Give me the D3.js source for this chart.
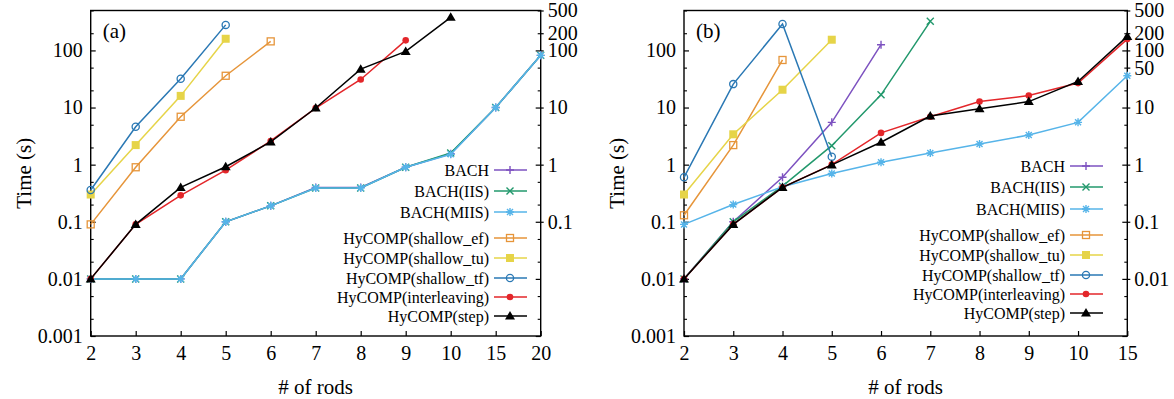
<!DOCTYPE html>
<html>
<head>
<meta charset="utf-8">
<script src="https://cdn.jsdelivr.net/npm/d3@7"></script>
<style>
  body { margin: 0; background: #fff; }
  svg, svg text { font-family: "Liberation Serif", "Times New Roman", Times, "DejaVu Serif", serif !important; }
</style>
</head>
<body>
<svg id="chart" width="1174" height="399"></svg>
<script>
// categories (# of rods)
const rodsA = ['2', '3', '4', '5', '6', '7', '8', '9', '10', '15', '20'];
const rodsB = ['2', '3', '4', '5', '6', '7', '8', '9', '10', '15'];

// panel (a) times in seconds, aligned to rodsA
const bachA   = [0.01, 0.01, 0.01, 0.1, 0.19, 0.4, 0.4, 0.9, 1.55, 10, 82];
const iisA    = [0.01, 0.01, 0.01, 0.1, 0.19, 0.39, 0.39, 0.9, 1.6, 10, 82];
const miisA   = [0.01, 0.01, 0.01, 0.1, 0.19, 0.39, 0.39, 0.9, 1.52, 10, 82];
const efA     = [0.09, 0.9, 6.9, 36, 144];
const tuA     = [0.3, 2.2, 16, 160];
const tfA     = [0.36, 4.6, 32, 280];
const interA  = [0.01, 0.09, 0.29, 0.8, 2.6, 9.8, 31, 150];
const stepA   = [0.01, 0.09, 0.4, 0.92, 2.5, 9.8, 47, 96, 380];

// panel (b) times in seconds, aligned to rodsB
const bachB   = [0.01, 0.1, 0.6, 5.5, 126];
const iisB    = [0.01, 0.1, 0.42, 2.15, 16.7, 323];
const miisB   = [0.09, 0.2, 0.41, 0.7, 1.1, 1.6, 2.3, 3.3, 5.5, 36];
const efB     = [0.13, 2.2, 68];
const tuB     = [0.3, 3.4, 20.5, 154];
const tfB     = [0.6, 25.7, 290, 1.38];
const interB  = [0.01, 0.09, 0.4, 1.0, 3.6, 6.9, 12.7, 16.2, 26.8, 158];
const stepB   = [0.01, 0.09, 0.4, 0.99, 2.47, 7.1, 9.5, 12.7, 28.6, 176];

const seriesNames = ['BACH', 'BACH(IIS)', 'BACH(MIIS)', 'HyCOMP(shallow_ef)',
  'HyCOMP(shallow_tu)', 'HyCOMP(shallow_tf)', 'HyCOMP(interleaving)', 'HyCOMP(step)'];

// tick labels
const leftTicks = [0.001, 0.01, 0.1, 1, 10, 100];
const leftTickLabels = ['0.001', '0.01', '0.1', '1', '10', '100'];
const rightTicksA = [500, 200, 100, 10, 1, 0.1];
const rightTicksB = [500, 200, 100, 50, 10, 1, 0.1, 0.01];

const colors = ['#7d52c0', '#22986c', '#56b4e9', '#e6953a', '#e6d448', '#2a78b4', '#e3262a', '#000000'];
const markers = ['plus', 'cross', 'star', 'square', 'fsquare', 'circle', 'dot', 'triangle'];

const svg = d3.select('#chart');

function drawMarker(g, type, x, y, color) {
  if (type === 'plus') {
    g.append('path').attr('d', `M${x - 4},${y}H${x + 4}M${x},${y - 4}V${y + 4}`)
      .attr('stroke', color).attr('stroke-width', 1.4);
  } else if (type === 'cross') {
    g.append('path').attr('d', `M${x - 3.5},${y - 3.5}L${x + 3.5},${y + 3.5}M${x - 3.5},${y + 3.5}L${x + 3.5},${y - 3.5}`)
      .attr('stroke', color).attr('stroke-width', 1.4);
  } else if (type === 'star') {
    g.append('path').attr('d', `M${x - 4},${y}H${x + 4}M${x},${y - 4}V${y + 4}M${x - 3},${y - 3}L${x + 3},${y + 3}M${x - 3},${y + 3}L${x + 3},${y - 3}`)
      .attr('stroke', color).attr('stroke-width', 1.4);
  } else if (type === 'square') {
    g.append('rect').attr('x', x - 3.5).attr('y', y - 3.5).attr('width', 7).attr('height', 7)
      .attr('fill', 'none').attr('stroke', color).attr('stroke-width', 1.3);
  } else if (type === 'fsquare') {
    g.append('rect').attr('x', x - 4).attr('y', y - 4).attr('width', 8).attr('height', 8)
      .attr('fill', color);
  } else if (type === 'circle') {
    g.append('circle').attr('cx', x).attr('cy', y).attr('r', 3.6)
      .attr('fill', 'none').attr('stroke', color).attr('stroke-width', 1.3);
  } else if (type === 'dot') {
    g.append('circle').attr('cx', x).attr('cy', y).attr('r', 3.3).attr('fill', color);
  } else if (type === 'triangle') {
    g.append('path').attr('d', `M${x},${y - 5}L${x + 5},${y + 3.5}L${x - 5},${y + 3.5}Z`).attr('fill', color);
  }
}

function drawPanel(opt) {
  const { left, right, top, bottom, rods, series, rightTicks, tag, legendX, legendRows } = opt;

  const x = d3.scalePoint().domain(rods).range([left, right]);
  const y = d3.scaleLog().domain([0.001, 500]).range([bottom, top]);

  const g = svg.append('g');

  // minor ticks at 2 and 5 of each decade
  const minor = [];
  [0.001, 0.01, 0.1, 1, 10, 100].forEach(d => { minor.push(d * 2, d * 5); });

  // left axis
  const leftAxis = d3.axisLeft(y).tickValues(leftTicks).tickSize(-5)
    .tickFormat((d, i) => leftTickLabels[i]).tickPadding(8);
  const la = g.append('g').attr('transform', `translate(${left},0)`).call(leftAxis);
  la.select('.domain').remove();
  la.selectAll('line').attr('stroke', '#000').attr('stroke-width', 1.2);
  la.selectAll('text').attr('font-size', 20).attr('fill', '#000');
  const lm = g.append('g').attr('transform', `translate(${left},0)`)
    .call(d3.axisLeft(y).tickValues(minor).tickSize(-3).tickFormat(''));
  lm.select('.domain').remove();
  lm.selectAll('line').attr('stroke', '#000').attr('stroke-width', 1.1);

  // right axis (mirror ticks inward + labelled y2 ticks)
  const rm = g.append('g').attr('transform', `translate(${right},0)`)
    .call(d3.axisRight(y).tickValues(leftTicks).tickSize(-5).tickFormat(''));
  rm.select('.domain').remove();
  rm.selectAll('line').attr('stroke', '#000').attr('stroke-width', 1.2);
  const rm2 = g.append('g').attr('transform', `translate(${right},0)`)
    .call(d3.axisRight(y).tickValues(minor).tickSize(-3).tickFormat(''));
  rm2.select('.domain').remove();
  rm2.selectAll('line').attr('stroke', '#000').attr('stroke-width', 1.1);
  const ra = g.append('g').attr('transform', `translate(${right},0)`)
    .call(d3.axisRight(y).tickValues(rightTicks).tickSize(3).tickPadding(4).tickFormat(d => String(d)));
  ra.select('.domain').remove();
  ra.selectAll('line').attr('stroke', '#000').attr('stroke-width', 1.2);
  ra.selectAll('text').attr('font-size', 20).attr('fill', '#000');

  // bottom axis
  const ba = g.append('g').attr('transform', `translate(0,${bottom})`)
    .call(d3.axisBottom(x).tickSize(-5).tickPadding(10));
  ba.select('.domain').remove();
  ba.selectAll('line').attr('stroke', '#000').attr('stroke-width', 1.2);
  ba.selectAll('text').attr('font-size', 20).attr('fill', '#000');

  // frame
  g.append('rect').attr('x', left).attr('y', top).attr('width', right - left).attr('height', bottom - top)
    .attr('fill', 'none').attr('stroke', '#000').attr('stroke-width', 1.4);

  // series
  const line = d3.line().x(d => x(d.rod)).y(d => y(d.v));
  series.forEach((vals, i) => {
    const pts = vals.map((v, j) => ({ rod: rods[j], v }));
    g.append('path').datum(pts).attr('d', line)
      .attr('fill', 'none').attr('stroke', colors[i]).attr('stroke-width', 1.5);
    const mg = g.append('g');
    pts.forEach(p => drawMarker(mg, markers[i], x(p.rod), y(p.v), colors[i]));
  });

  // legend
  seriesNames.forEach((name, i) => {
    const ly = legendRows[i];
    g.append('text').attr('x', legendX).attr('y', ly).attr('dy', '0.35em')
      .attr('text-anchor', 'end').attr('font-size', 16).text(name);
    g.append('line').attr('x1', legendX + 5).attr('x2', legendX + 38).attr('y1', ly).attr('y2', ly)
      .attr('stroke', colors[i]).attr('stroke-width', 1.5);
    drawMarker(g, markers[i], legendX + 21, ly, colors[i]);
  });

  // panel tag
  g.append('text').attr('x', left + 12).attr('y', top + 27).attr('font-size', 21).text(tag);

  // axis titles
  g.append('text').attr('x', (left + right) / 2).attr('y', 394).attr('text-anchor', 'middle')
    .attr('font-size', 21).text('# of rods');
  g.append('text').attr('transform', `translate(${left - 67},${(top + bottom) / 2}) rotate(-90)`)
    .attr('text-anchor', 'middle').attr('dy', '0.35em').attr('font-size', 21).text('Time (s)');
}

drawPanel({
  left: 90.7, right: 540.7, top: 10.5, bottom: 336,
  rods: rodsA,
  series: [bachA, iisA, miisA, efA, tuA, tfA, interA, stepA],
  rightTicks: rightTicksA, tag: '(a)', legendX: 489,
  legendRows: [170, 191, 212, 238, 258, 278, 297, 316]
});

drawPanel({
  left: 684, right: 1127.3, top: 10.5, bottom: 336,
  rods: rodsB,
  series: [bachB, iisB, miisB, efB, tuB, tfB, interB, stepB],
  rightTicks: rightTicksB, tag: '(b)', legendX: 1065,
  legendRows: [166, 187, 209, 235, 255, 275, 294, 313]
});
</script>
</body>
</html>
